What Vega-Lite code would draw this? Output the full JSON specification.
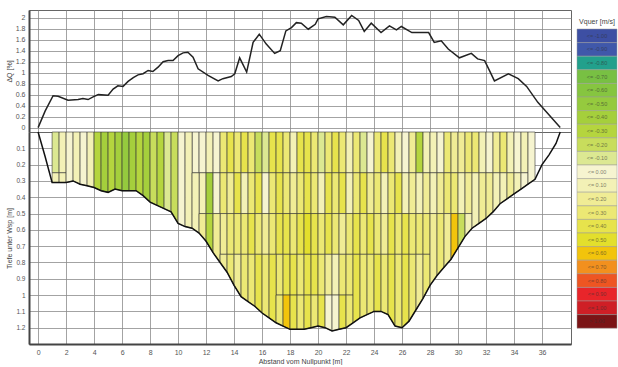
{
"$schema":"https://vega.github.io/schema/vega-lite/v6.json",
"padding":{"left":4,"top":9,"right":0,"bottom":0},
"background":"white",
"config":{
"view":{"stroke":"#666","strokeWidth":1},
"font":"Liberation Sans",
"axis":{"labelFontSize":7,"labelColor":"#555","titleFontSize":7,"titleColor":"#444","titleFontWeight":"normal","gridColor":"#8c8c8c","gridOpacity":1,"gridWidth":0.8,"tickSize":0,"domainColor":"#444","labelPadding":4,"titlePadding":3,"labelOverlap":false}
},
"datasets":{
"top":[{"x":0,"q":0},{"x":0.5,"q":0.3},{"x":1.07,"q":0.58},{"x":1.43,"q":0.57},{"x":2.14,"q":0.5},{"x":2.86,"q":0.51},{"x":3.2,"q":0.53},{"x":3.57,"q":0.51},{"x":3.93,"q":0.56},{"x":4.3,"q":0.6},{"x":5.0,"q":0.59},{"x":5.36,"q":0.7},{"x":5.7,"q":0.76},{"x":6.07,"q":0.75},{"x":6.43,"q":0.84},{"x":6.8,"q":0.91},{"x":7.14,"q":0.96},{"x":7.5,"q":0.98},{"x":7.86,"q":1.04},{"x":8.2,"q":1.02},{"x":8.57,"q":1.1},{"x":8.93,"q":1.2},{"x":9.29,"q":1.22},{"x":9.64,"q":1.22},{"x":10.0,"q":1.31},{"x":10.36,"q":1.36},{"x":10.7,"q":1.37},{"x":11.07,"q":1.28},{"x":11.43,"q":1.07},{"x":12.14,"q":0.95},{"x":12.86,"q":0.85},{"x":13.2,"q":0.89},{"x":13.8,"q":0.93},{"x":14.05,"q":0.98},{"x":14.4,"q":1.27},{"x":14.9,"q":1.01},{"x":15.36,"q":1.55},{"x":15.8,"q":1.7},{"x":16.3,"q":1.52},{"x":16.9,"q":1.35},{"x":17.3,"q":1.4},{"x":17.7,"q":1.76},{"x":18.1,"q":1.82},{"x":18.45,"q":1.91},{"x":18.8,"q":1.9},{"x":19.3,"q":1.79},{"x":19.8,"q":1.88},{"x":20.0,"q":1.98},{"x":20.6,"q":2.02},{"x":21.2,"q":2.01},{"x":21.8,"q":1.87},{"x":22.4,"q":2.04},{"x":22.9,"q":1.95},{"x":23.3,"q":1.75},{"x":23.8,"q":1.9},{"x":24.5,"q":1.73},{"x":25.1,"q":1.85},{"x":25.6,"q":1.78},{"x":25.95,"q":1.84},{"x":26.7,"q":1.73},{"x":27.9,"q":1.73},{"x":28.3,"q":1.55},{"x":28.8,"q":1.58},{"x":29.3,"q":1.43},{"x":30.1,"q":1.27},{"x":30.95,"q":1.35},{"x":31.4,"q":1.25},{"x":31.9,"q":1.22},{"x":32.3,"q":1.01},{"x":32.6,"q":0.85},{"x":33.6,"q":0.98},{"x":34.3,"q":0.89},{"x":34.9,"q":0.75},{"x":35.7,"q":0.46},{"x":37.3,"q":0}],
"bed":[{"x":0,"d":0},{"x":0.5,"d":0.15},{"x":1,"d":0.31},{"x":1.5,"d":0.31},{"x":2,"d":0.31},{"x":2.5,"d":0.3},{"x":3,"d":0.32},{"x":3.5,"d":0.33},{"x":4,"d":0.34},{"x":4.5,"d":0.36},{"x":5,"d":0.37},{"x":5.5,"d":0.35},{"x":6,"d":0.36},{"x":6.5,"d":0.36},{"x":7,"d":0.36},{"x":7.5,"d":0.39},{"x":8,"d":0.43},{"x":8.5,"d":0.45},{"x":9,"d":0.47},{"x":9.5,"d":0.49},{"x":10,"d":0.56},{"x":10.5,"d":0.58},{"x":11,"d":0.59},{"x":11.5,"d":0.62},{"x":12,"d":0.67},{"x":12.5,"d":0.74},{"x":13,"d":0.8},{"x":13.5,"d":0.86},{"x":14,"d":0.94},{"x":14.5,"d":1.01},{"x":15,"d":1.04},{"x":15.5,"d":1.07},{"x":16,"d":1.11},{"x":16.5,"d":1.14},{"x":17,"d":1.17},{"x":17.5,"d":1.19},{"x":18,"d":1.21},{"x":18.5,"d":1.21},{"x":19,"d":1.21},{"x":19.5,"d":1.2},{"x":20,"d":1.19},{"x":20.5,"d":1.2},{"x":21,"d":1.22},{"x":21.5,"d":1.21},{"x":22,"d":1.2},{"x":22.5,"d":1.17},{"x":23,"d":1.14},{"x":23.5,"d":1.12},{"x":24,"d":1.1},{"x":24.5,"d":1.1},{"x":25,"d":1.12},{"x":25.5,"d":1.19},{"x":26,"d":1.2},{"x":26.5,"d":1.16},{"x":27,"d":1.09},{"x":27.5,"d":1.02},{"x":28,"d":0.94},{"x":28.5,"d":0.88},{"x":29,"d":0.83},{"x":29.5,"d":0.78},{"x":30,"d":0.71},{"x":30.5,"d":0.64},{"x":31,"d":0.59},{"x":31.5,"d":0.56},{"x":32,"d":0.53},{"x":32.5,"d":0.49},{"x":33,"d":0.44},{"x":33.5,"d":0.41},{"x":34,"d":0.38},{"x":34.5,"d":0.35},{"x":35,"d":0.32},{"x":35.5,"d":0.29},{"x":36,"d":0.2},{"x":36.5,"d":0.14},{"x":37,"d":0.07},{"x":37.3,"d":0}],
"cells":[
{"x":1,"x2":1.5,"t":0,"b":0.25,"c":"-0.10"},
{"x":1.5,"x2":2,"t":0,"b":0.25,"c":"0.10"},
{"x":11,"x2":11.5,"t":0,"b":0.25,"c":"0.00"},
{"x":11.5,"x2":12,"t":0,"b":0.25,"c":"0.00"},{"x":11.5,"x2":12,"t":0.25,"b":0.5,"c":"0.10"},
{"x":12,"x2":12.5,"t":0,"b":0.25,"c":"0.10"},{"x":12,"x2":12.5,"t":0.25,"b":0.5,"c":"-0.40"},
{"x":12.5,"x2":13,"t":0,"b":0.25,"c":"0.00"},{"x":12.5,"x2":13,"t":0.25,"b":0.5,"c":"0.00"},
{"x":13,"x2":13.5,"t":0,"b":0.25,"c":"0.30"},{"x":13,"x2":13.5,"t":0.25,"b":0.5,"c":"0.30"},{"x":13,"x2":13.5,"t":0.5,"b":0.75,"c":"0.20"},
{"x":13.5,"x2":14,"t":0,"b":0.25,"c":"0.40"},{"x":13.5,"x2":14,"t":0.25,"b":0.5,"c":"0.20"},{"x":13.5,"x2":14,"t":0.5,"b":0.75,"c":"0.30"},
{"x":14,"x2":14.5,"t":0,"b":0.25,"c":"0.30"},{"x":14,"x2":14.5,"t":0.25,"b":0.5,"c":"0.40"},{"x":14,"x2":14.5,"t":0.5,"b":0.75,"c":"0.30"},
{"x":14.5,"x2":15,"t":0,"b":0.25,"c":"0.40"},{"x":14.5,"x2":15,"t":0.25,"b":0.5,"c":"0.10"},{"x":14.5,"x2":15,"t":0.5,"b":0.75,"c":"0.30"},
{"x":15,"x2":15.5,"t":0,"b":0.25,"c":"0.30"},{"x":15,"x2":15.5,"t":0.25,"b":0.5,"c":"0.30"},{"x":15,"x2":15.5,"t":0.5,"b":0.75,"c":"0.40"},
{"x":15.5,"x2":16,"t":0,"b":0.25,"c":"-0.20"},{"x":15.5,"x2":16,"t":0.25,"b":0.5,"c":"0.40"},{"x":15.5,"x2":16,"t":0.5,"b":0.75,"c":"0.30"},
{"x":16,"x2":16.5,"t":0,"b":0.25,"c":"-0.10"},{"x":16,"x2":16.5,"t":0.25,"b":0.5,"c":"0.00"},{"x":16,"x2":16.5,"t":0.5,"b":0.75,"c":"0.20"},
{"x":16.5,"x2":17,"t":0,"b":0.25,"c":"0.40"},{"x":16.5,"x2":17,"t":0.25,"b":0.5,"c":"0.30"},{"x":16.5,"x2":17,"t":0.5,"b":0.75,"c":"0.30"},
{"x":17,"x2":17.5,"t":0,"b":0.25,"c":"0.40"},{"x":17,"x2":17.5,"t":0.25,"b":0.5,"c":"0.40"},{"x":17,"x2":17.5,"t":0.5,"b":0.75,"c":"0.40"},{"x":17,"x2":17.5,"t":0.75,"b":1,"c":"0.30"},
{"x":17.5,"x2":18,"t":0,"b":0.25,"c":"0.30"},{"x":17.5,"x2":18,"t":0.25,"b":0.5,"c":"0.30"},{"x":17.5,"x2":18,"t":0.5,"b":0.75,"c":"0.40"},{"x":17.5,"x2":18,"t":0.75,"b":1,"c":"0.40"},
{"x":18,"x2":18.5,"t":0,"b":0.25,"c":"0.10"},{"x":18,"x2":18.5,"t":0.25,"b":0.5,"c":"0.20"},{"x":18,"x2":18.5,"t":0.5,"b":0.75,"c":"0.30"},{"x":18,"x2":18.5,"t":0.75,"b":1,"c":"0.40"},
{"x":18.5,"x2":19,"t":0,"b":0.25,"c":"0.40"},{"x":18.5,"x2":19,"t":0.25,"b":0.5,"c":"0.30"},{"x":18.5,"x2":19,"t":0.5,"b":0.75,"c":"0.40"},{"x":18.5,"x2":19,"t":0.75,"b":1,"c":"0.30"},
{"x":19,"x2":19.5,"t":0,"b":0.25,"c":"0.40"},{"x":19,"x2":19.5,"t":0.25,"b":0.5,"c":"0.40"},{"x":19,"x2":19.5,"t":0.5,"b":0.75,"c":"0.50"},{"x":19,"x2":19.5,"t":0.75,"b":1,"c":"0.40"},
{"x":19.5,"x2":20,"t":0,"b":0.25,"c":"0.30"},{"x":19.5,"x2":20,"t":0.25,"b":0.5,"c":"0.30"},{"x":19.5,"x2":20,"t":0.5,"b":0.75,"c":"0.40"},{"x":19.5,"x2":20,"t":0.75,"b":1,"c":"0.40"},
{"x":20,"x2":20.5,"t":0,"b":0.25,"c":"-0.10"},{"x":20,"x2":20.5,"t":0.25,"b":0.5,"c":"0.10"},{"x":20,"x2":20.5,"t":0.5,"b":0.75,"c":"0.30"},{"x":20,"x2":20.5,"t":0.75,"b":1,"c":"0.30"},
{"x":20.5,"x2":21,"t":0,"b":0.25,"c":"0.30"},{"x":20.5,"x2":21,"t":0.25,"b":0.5,"c":"0.40"},{"x":20.5,"x2":21,"t":0.5,"b":0.75,"c":"0.40"},{"x":20.5,"x2":21,"t":0.75,"b":1,"c":"0.20"},
{"x":21,"x2":21.5,"t":0,"b":0.25,"c":"0.40"},{"x":21,"x2":21.5,"t":0.25,"b":0.5,"c":"0.30"},{"x":21,"x2":21.5,"t":0.5,"b":0.75,"c":"0.30"},{"x":21,"x2":21.5,"t":0.75,"b":1,"c":"0.10"},
{"x":21.5,"x2":22,"t":0,"b":0.25,"c":"0.30"},{"x":21.5,"x2":22,"t":0.25,"b":0.5,"c":"0.40"},{"x":21.5,"x2":22,"t":0.5,"b":0.75,"c":"0.20"},{"x":21.5,"x2":22,"t":0.75,"b":1,"c":"0.30"},
{"x":22,"x2":22.5,"t":0,"b":0.25,"c":"0.10"},{"x":22,"x2":22.5,"t":0.25,"b":0.5,"c":"0.10"},{"x":22,"x2":22.5,"t":0.5,"b":0.75,"c":"0.30"},{"x":22,"x2":22.5,"t":0.75,"b":1,"c":"0.30"},
{"x":22.5,"x2":23,"t":0,"b":0.25,"c":"0.30"},{"x":22.5,"x2":23,"t":0.25,"b":0.5,"c":"0.30"},{"x":22.5,"x2":23,"t":0.5,"b":0.75,"c":"0.40"},
{"x":23,"x2":23.5,"t":0,"b":0.25,"c":"-0.10"},{"x":23,"x2":23.5,"t":0.25,"b":0.5,"c":"0.40"},{"x":23,"x2":23.5,"t":0.5,"b":0.75,"c":"0.30"},
{"x":23.5,"x2":24,"t":0,"b":0.25,"c":"0.00"},{"x":23.5,"x2":24,"t":0.25,"b":0.5,"c":"0.20"},{"x":23.5,"x2":24,"t":0.5,"b":0.75,"c":"0.40"},
{"x":24,"x2":24.5,"t":0,"b":0.25,"c":"0.30"},{"x":24,"x2":24.5,"t":0.25,"b":0.5,"c":"0.30"},{"x":24,"x2":24.5,"t":0.5,"b":0.75,"c":"0.30"},
{"x":24.5,"x2":25,"t":0,"b":0.25,"c":"0.40"},{"x":24.5,"x2":25,"t":0.25,"b":0.5,"c":"0.10"},{"x":24.5,"x2":25,"t":0.5,"b":0.75,"c":"0.20"},
{"x":25,"x2":25.5,"t":0,"b":0.25,"c":"0.30"},{"x":25,"x2":25.5,"t":0.25,"b":0.5,"c":"0.30"},{"x":25,"x2":25.5,"t":0.5,"b":0.75,"c":"0.40"},
{"x":25.5,"x2":26,"t":0,"b":0.25,"c":"0.10"},{"x":25.5,"x2":26,"t":0.25,"b":0.5,"c":"0.40"},{"x":25.5,"x2":26,"t":0.5,"b":0.75,"c":"0.30"},
{"x":26,"x2":26.5,"t":0,"b":0.25,"c":"0.00"},{"x":26,"x2":26.5,"t":0.25,"b":0.5,"c":"0.10"},{"x":26,"x2":26.5,"t":0.5,"b":0.75,"c":"0.40"},
{"x":26.5,"x2":27,"t":0,"b":0.25,"c":"0.20"},{"x":26.5,"x2":27,"t":0.25,"b":0.5,"c":"0.20"},{"x":26.5,"x2":27,"t":0.5,"b":0.75,"c":"0.30"},
{"x":27,"x2":27.5,"t":0,"b":0.25,"c":"-0.30"},{"x":27,"x2":27.5,"t":0.25,"b":0.5,"c":"0.10"},{"x":27,"x2":27.5,"t":0.5,"b":0.75,"c":"0.30"},
{"x":27.5,"x2":28,"t":0,"b":0.25,"c":"0.10"},{"x":27.5,"x2":28,"t":0.25,"b":0.5,"c":"0.20"},{"x":27.5,"x2":28,"t":0.5,"b":0.75,"c":"0.30"},
{"x":28,"x2":28.5,"t":0,"b":0.25,"c":"0.10"},{"x":28,"x2":28.5,"t":0.25,"b":0.5,"c":"0.10"},
{"x":28.5,"x2":29,"t":0,"b":0.25,"c":"0.00"},{"x":28.5,"x2":29,"t":0.25,"b":0.5,"c":"0.20"},
{"x":29,"x2":29.5,"t":0,"b":0.25,"c":"0.30"},{"x":29,"x2":29.5,"t":0.25,"b":0.5,"c":"0.30"},
{"x":29.5,"x2":30,"t":0,"b":0.25,"c":"0.20"},{"x":29.5,"x2":30,"t":0.25,"b":0.5,"c":"0.30"},
{"x":30,"x2":30.5,"t":0,"b":0.25,"c":"0.20"},{"x":30,"x2":30.5,"t":0.25,"b":0.5,"c":"0.10"},
{"x":30.5,"x2":31,"t":0,"b":0.25,"c":"0.30"},{"x":30.5,"x2":31,"t":0.25,"b":0.5,"c":"0.20"},
{"x":31,"x2":31.5,"t":0,"b":0.25,"c":"0.30"},
{"x":31.5,"x2":32,"t":0,"b":0.25,"c":"0.10"},
{"x":32,"x2":32.5,"t":0,"b":0.25,"c":"0.00"},
{"x":32.5,"x2":33,"t":0,"b":0.25,"c":"0.20"},
{"x":33,"x2":33.5,"t":0,"b":0.25,"c":"0.30"},
{"x":33.5,"x2":34,"t":0,"b":0.25,"c":"0.10"},
{"x":34,"x2":34.5,"t":0,"b":0.25,"c":"0.00"},
{"x":34.5,"x2":35,"t":0,"b":0.25,"c":"0.10"}
],
"bots":[
{"k":1,"x":1,"t":0.25,"d":0.31,"c":"0.10"},{"k":1,"x":1.5,"t":0.25,"d":0.31,"c":"0.10"},
{"k":2,"x":1.5,"t":0.25,"d":0.31,"c":"0.10"},{"k":2,"x":2,"t":0.25,"d":0.31,"c":"0.10"},
{"k":3,"x":2,"t":0,"d":0.31,"c":"0.00"},{"k":3,"x":2.5,"t":0,"d":0.3,"c":"0.00"},
{"k":4,"x":2.5,"t":0,"d":0.3,"c":"0.10"},{"k":4,"x":3,"t":0,"d":0.32,"c":"0.10"},
{"k":5,"x":3,"t":0,"d":0.32,"c":"0.00"},{"k":5,"x":3.5,"t":0,"d":0.33,"c":"0.00"},
{"k":6,"x":3.5,"t":0,"d":0.33,"c":"0.10"},{"k":6,"x":4,"t":0,"d":0.34,"c":"0.10"},
{"k":7,"x":4,"t":0,"d":0.34,"c":"-0.30"},{"k":7,"x":4.5,"t":0,"d":0.36,"c":"-0.30"},
{"k":8,"x":4.5,"t":0,"d":0.36,"c":"-0.40"},{"k":8,"x":5,"t":0,"d":0.37,"c":"-0.40"},
{"k":9,"x":5,"t":0,"d":0.37,"c":"-0.30"},{"k":9,"x":5.5,"t":0,"d":0.35,"c":"-0.30"},
{"k":10,"x":5.5,"t":0,"d":0.35,"c":"-0.40"},{"k":10,"x":6,"t":0,"d":0.36,"c":"-0.40"},
{"k":11,"x":6,"t":0,"d":0.36,"c":"-0.50"},{"k":11,"x":6.5,"t":0,"d":0.36,"c":"-0.50"},
{"k":12,"x":6.5,"t":0,"d":0.36,"c":"-0.40"},{"k":12,"x":7,"t":0,"d":0.36,"c":"-0.40"},
{"k":13,"x":7,"t":0,"d":0.36,"c":"-0.30"},{"k":13,"x":7.5,"t":0,"d":0.39,"c":"-0.30"},
{"k":14,"x":7.5,"t":0,"d":0.39,"c":"-0.40"},{"k":14,"x":8,"t":0,"d":0.43,"c":"-0.40"},
{"k":15,"x":8,"t":0,"d":0.43,"c":"-0.20"},{"k":15,"x":8.5,"t":0,"d":0.45,"c":"-0.20"},
{"k":16,"x":8.5,"t":0,"d":0.45,"c":"-0.30"},{"k":16,"x":9,"t":0,"d":0.47,"c":"-0.30"},
{"k":17,"x":9,"t":0,"d":0.47,"c":"-0.10"},{"k":17,"x":9.5,"t":0,"d":0.49,"c":"-0.10"},
{"k":18,"x":9.5,"t":0,"d":0.49,"c":"-0.20"},{"k":18,"x":10,"t":0,"d":0.56,"c":"-0.20"},
{"k":19,"x":10,"t":0,"d":0.56,"c":"0.00"},{"k":19,"x":10.5,"t":0,"d":0.58,"c":"0.00"},
{"k":20,"x":10.5,"t":0,"d":0.58,"c":"0.10"},{"k":20,"x":11,"t":0,"d":0.59,"c":"0.10"},
{"k":21,"x":11,"t":0.25,"d":0.59,"c":"0.10"},{"k":21,"x":11.5,"t":0.25,"d":0.62,"c":"0.10"},
{"k":22,"x":11.5,"t":0.5,"d":0.62,"c":"0.20"},{"k":22,"x":12,"t":0.5,"d":0.67,"c":"0.20"},
{"k":23,"x":12,"t":0.5,"d":0.67,"c":"-0.30"},{"k":23,"x":12.5,"t":0.5,"d":0.74,"c":"-0.30"},
{"k":24,"x":12.5,"t":0.5,"d":0.74,"c":"0.20"},{"k":24,"x":13,"t":0.5,"d":0.8,"c":"0.20"},
{"k":25,"x":13,"t":0.75,"d":0.8,"c":"0.20"},{"k":25,"x":13.5,"t":0.75,"d":0.86,"c":"0.20"},
{"k":26,"x":13.5,"t":0.75,"d":0.86,"c":"0.30"},{"k":26,"x":14,"t":0.75,"d":0.94,"c":"0.30"},
{"k":27,"x":14,"t":0.75,"d":0.94,"c":"0.20"},{"k":27,"x":14.5,"t":0.75,"d":1.01,"c":"0.20"},
{"k":28,"x":14.5,"t":0.75,"d":1.01,"c":"0.30"},{"k":28,"x":15,"t":0.75,"d":1.04,"c":"0.30"},
{"k":29,"x":15,"t":0.75,"d":1.04,"c":"0.30"},{"k":29,"x":15.5,"t":0.75,"d":1.07,"c":"0.30"},
{"k":30,"x":15.5,"t":0.75,"d":1.07,"c":"0.40"},{"k":30,"x":16,"t":0.75,"d":1.11,"c":"0.40"},
{"k":31,"x":16,"t":0.75,"d":1.11,"c":"0.30"},{"k":31,"x":16.5,"t":0.75,"d":1.14,"c":"0.30"},
{"k":32,"x":16.5,"t":0.75,"d":1.14,"c":"0.40"},{"k":32,"x":17,"t":0.75,"d":1.17,"c":"0.40"},
{"k":33,"x":17,"t":1,"d":1.17,"c":"0.30"},{"k":33,"x":17.5,"t":1,"d":1.19,"c":"0.30"},
{"k":34,"x":17.5,"t":1,"d":1.19,"c":"0.60"},{"k":34,"x":18,"t":1,"d":1.21,"c":"0.60"},
{"k":35,"x":18,"t":1,"d":1.21,"c":"0.40"},{"k":35,"x":18.5,"t":1,"d":1.21,"c":"0.40"},
{"k":36,"x":18.5,"t":1,"d":1.21,"c":"0.30"},{"k":36,"x":19,"t":1,"d":1.21,"c":"0.30"},
{"k":37,"x":19,"t":1,"d":1.21,"c":"0.40"},{"k":37,"x":19.5,"t":1,"d":1.2,"c":"0.40"},
{"k":38,"x":19.5,"t":1,"d":1.2,"c":"0.30"},{"k":38,"x":20,"t":1,"d":1.19,"c":"0.30"},
{"k":39,"x":20,"t":1,"d":1.19,"c":"0.40"},{"k":39,"x":20.5,"t":1,"d":1.2,"c":"0.40"},
{"k":40,"x":20.5,"t":1,"d":1.2,"c":"0.00"},{"k":40,"x":21,"t":1,"d":1.22,"c":"0.00"},
{"k":41,"x":21,"t":1,"d":1.22,"c":"0.00"},{"k":41,"x":21.5,"t":1,"d":1.21,"c":"0.00"},
{"k":42,"x":21.5,"t":1,"d":1.21,"c":"0.40"},{"k":42,"x":22,"t":1,"d":1.2,"c":"0.40"},
{"k":43,"x":22,"t":1,"d":1.2,"c":"0.30"},{"k":43,"x":22.5,"t":1,"d":1.17,"c":"0.30"},
{"k":44,"x":22.5,"t":0.75,"d":1.17,"c":"0.40"},{"k":44,"x":23,"t":0.75,"d":1.14,"c":"0.40"},
{"k":45,"x":23,"t":0.75,"d":1.14,"c":"0.30"},{"k":45,"x":23.5,"t":0.75,"d":1.12,"c":"0.30"},
{"k":46,"x":23.5,"t":0.75,"d":1.12,"c":"0.30"},{"k":46,"x":24,"t":0.75,"d":1.1,"c":"0.30"},
{"k":47,"x":24,"t":0.75,"d":1.1,"c":"0.40"},{"k":47,"x":24.5,"t":0.75,"d":1.1,"c":"0.40"},
{"k":48,"x":24.5,"t":0.75,"d":1.1,"c":"0.30"},{"k":48,"x":25,"t":0.75,"d":1.12,"c":"0.30"},
{"k":49,"x":25,"t":0.75,"d":1.12,"c":"0.40"},{"k":49,"x":25.5,"t":0.75,"d":1.19,"c":"0.40"},
{"k":50,"x":25.5,"t":0.75,"d":1.19,"c":"0.30"},{"k":50,"x":26,"t":0.75,"d":1.2,"c":"0.30"},
{"k":51,"x":26,"t":0.75,"d":1.2,"c":"0.40"},{"k":51,"x":26.5,"t":0.75,"d":1.16,"c":"0.40"},
{"k":52,"x":26.5,"t":0.75,"d":1.16,"c":"0.30"},{"k":52,"x":27,"t":0.75,"d":1.09,"c":"0.30"},
{"k":53,"x":27,"t":0.75,"d":1.09,"c":"0.20"},{"k":53,"x":27.5,"t":0.75,"d":1.02,"c":"0.20"},
{"k":54,"x":27.5,"t":0.75,"d":1.02,"c":"0.30"},{"k":54,"x":28,"t":0.75,"d":0.94,"c":"0.30"},
{"k":55,"x":28,"t":0.5,"d":0.94,"c":"0.20"},{"k":55,"x":28.5,"t":0.5,"d":0.88,"c":"0.20"},
{"k":56,"x":28.5,"t":0.5,"d":0.88,"c":"0.30"},{"k":56,"x":29,"t":0.5,"d":0.83,"c":"0.30"},
{"k":57,"x":29,"t":0.5,"d":0.83,"c":"0.20"},{"k":57,"x":29.5,"t":0.5,"d":0.78,"c":"0.20"},
{"k":58,"x":29.5,"t":0.5,"d":0.78,"c":"0.60"},{"k":58,"x":30,"t":0.5,"d":0.71,"c":"0.60"},
{"k":59,"x":30,"t":0.5,"d":0.71,"c":"-0.20"},{"k":59,"x":30.5,"t":0.5,"d":0.64,"c":"-0.20"},
{"k":60,"x":30.5,"t":0.5,"d":0.64,"c":"0.10"},{"k":60,"x":31,"t":0.5,"d":0.59,"c":"0.10"},
{"k":61,"x":31,"t":0.25,"d":0.59,"c":"0.10"},{"k":61,"x":31.5,"t":0.25,"d":0.56,"c":"0.10"},
{"k":62,"x":31.5,"t":0.25,"d":0.56,"c":"0.20"},{"k":62,"x":32,"t":0.25,"d":0.53,"c":"0.20"},
{"k":63,"x":32,"t":0.25,"d":0.53,"c":"0.20"},{"k":63,"x":32.5,"t":0.25,"d":0.49,"c":"0.20"},
{"k":64,"x":32.5,"t":0.25,"d":0.49,"c":"0.10"},{"k":64,"x":33,"t":0.25,"d":0.44,"c":"0.10"},
{"k":65,"x":33,"t":0.25,"d":0.44,"c":"0.10"},{"k":65,"x":33.5,"t":0.25,"d":0.41,"c":"0.10"},
{"k":66,"x":33.5,"t":0.25,"d":0.41,"c":"0.20"},{"k":66,"x":34,"t":0.25,"d":0.38,"c":"0.20"},
{"k":67,"x":34,"t":0.25,"d":0.38,"c":"0.10"},{"k":67,"x":34.5,"t":0.25,"d":0.35,"c":"0.10"},
{"k":68,"x":34.5,"t":0.25,"d":0.35,"c":"0.00"},{"k":68,"x":35,"t":0.25,"d":0.32,"c":"0.00"},
{"k":69,"x":35,"t":0,"d":0.32,"c":"0.00"},{"k":69,"x":35.5,"t":0,"d":0.29,"c":"0.00"}
],
"leg":[{"v":"title","l":"Vquer [m/s]"},{"v":"-1.00","l":"<=  -1.00"},{"v":"-0.90","l":"<=  -0.90"},{"v":"-0.80","l":"<=  -0.80"},{"v":"-0.70","l":"<=  -0.70"},{"v":"-0.60","l":"<=  -0.60"},{"v":"-0.50","l":"<=  -0.50"},{"v":"-0.40","l":"<=  -0.40"},{"v":"-0.30","l":"<=  -0.30"},{"v":"-0.20","l":"<=  -0.20"},{"v":"-0.10","l":"<=  -0.10"},{"v":"0.00","l":"<=  0.00"},{"v":"0.10","l":"<=  0.10"},{"v":"0.20","l":"<=  0.20"},{"v":"0.30","l":"<=  0.30"},{"v":"0.40","l":"<=  0.40"},{"v":"0.50","l":"<=  0.50"},{"v":"0.60","l":"<=  0.60"},{"v":"0.70","l":"<=  0.70"},{"v":"0.80","l":"<=  0.80"},{"v":"0.90","l":"<=  0.90"},{"v":"1.00","l":"<=  1.00"},{"v":">1.00","l":">  1.00"}]
},
"spacing":4,
"hconcat":[
{"spacing":0,"bounds":"flush","vconcat":[
{"width":542,"height":122,"data":{"name":"top"},
"mark":{"type":"line","color":"#222","strokeWidth":1.5},
"encoding":{
"x":{"field":"x","type":"quantitative","scale":{"domain":[-0.65,38.07],"nice":false,"zero":false},"axis":{"values":[0,2,4,6,8,10,12,14,16,18,20,22,24,26,28,30,32,34,36],"labels":false,"title":null,"domain":false,"ticks":false}},
"y":{"field":"q","type":"quantitative","scale":{"domain":[-0.08,2.14],"nice":false,"zero":false},"axis":{"values":[0,0.2,0.4,0.6,0.8,1,1.2,1.4,1.6,1.8,2],"format":"~g","title":"ΔQ [%]","domainWidth":2,"labelOverlap":false}}
}},
{"width":542,"height":212,
"encoding":{
"x":{"field":"x","type":"quantitative","scale":{"domain":[-0.65,38.07],"nice":false,"zero":false},"axis":{"values":[0,2,4,6,8,10,12,14,16,18,20,22,24,26,28,30,32,34,36],"title":"Abstand vom Nullpunkt [m]","domainWidth":2,"titlePadding":2,"labelOverlap":false}},
"y":{"field":"t","type":"quantitative","scale":{"domain":[0,1.3],"reverse":true,"nice":false,"zero":false},"axis":{"values":[0.1,0.2,0.3,0.4,0.5,0.6,0.7,0.8,0.9,1,1.1,1.2],"format":"~g","title":"Tiefe unter Wsp [m]","domainWidth":2,"labelOverlap":false,"labelFontSize":6.5}}
},
"layer":[
{"data":{"name":"cells"},"mark":{"type":"rect","stroke":"#333","strokeWidth":0.6},
"encoding":{"x2":{"field":"x2"},
"y2":{"field":"b"},
"color":{"field":"c","type":"nominal","legend":null,"scale":{"domain":["-1.00","-0.90","-0.80","-0.70","-0.60","-0.50","-0.40","-0.30","-0.20","-0.10","0.00","0.10","0.20","0.30","0.40","0.50","0.60","0.70","0.80","0.90","1.00",">1.00"],"range":["#3d4fa3","#4058aa","#22a08c","#78c043","#86c540","#95ca3e","#a5cf3c","#b5d53e","#c8dd5c","#dce892","#f6f4d0","#f3f1b6","#f0ec95","#ece874","#e7e34c","#e3df2c","#f2c40c","#f2901e","#ee5522","#e8252a","#cf1f26","#7b1416"]}}
}},
{"data":{"name":"bots"},"mark":{"type":"area","stroke":"#333","strokeWidth":0.6},
"encoding":{
"y":{"field":"t","type":"quantitative","stack":null},
"y2":{"field":"d"},
"detail":{"field":"k","type":"nominal"},
"color":{"field":"c","type":"nominal","legend":null}
}},
{"data":{"name":"bed"},"mark":{"type":"line","color":"#111","strokeWidth":1.5},
"encoding":{"y":{"field":"d","type":"quantitative"}}}
]}
]},
{"width":40,"height":334,"data":{"name":"leg"},
"view":{"stroke":null},
"encoding":{"y":{"field":"v","type":"ordinal","scale":{"domain":["title","-1.00","-0.90","-0.80","-0.70","-0.60","-0.50","-0.40","-0.30","-0.20","-0.10","0.00","0.10","0.20","0.30","0.40","0.50","0.60","0.70","0.80","0.90","1.00",">1.00"],"paddingInner":0,"paddingOuter":0.78,"align":0.255},"axis":null}},
"layer":[
{"transform":[{"filter":"datum.v != 'title'"}],"mark":{"type":"rect","stroke":"#999","strokeWidth":0.5},"encoding":{"color":{"field":"v","type":"nominal","legend":null}}},
{"transform":[{"filter":"datum.v != 'title'"}],"mark":{"type":"text","fontSize":5.5,"color":"#333","opacity":0.6},"encoding":{"text":{"field":"l"}}},
{"transform":[{"filter":"datum.v == 'title'"}],"mark":{"type":"text","fontSize":7,"color":"#444"},"encoding":{"text":{"field":"l"}}}
]}
]
}
